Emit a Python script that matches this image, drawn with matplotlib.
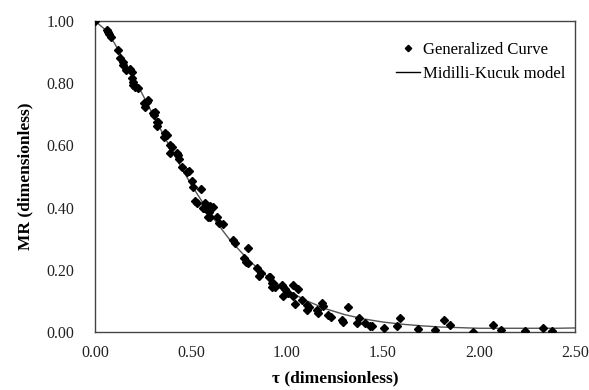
import matplotlib
matplotlib.use("Agg")
import matplotlib.pyplot as plt
import numpy as np

plt.rcParams['font.family'] = ['Liberation Serif', 'DejaVu Serif']

# experimental points (generalized drying curve)
tau_pts = [0.0, 0.064, 0.07, 0.075, 0.082, 0.121, 0.130, 0.144, 0.147, 0.161, 0.182, 0.191,
           0.191, 0.196, 0.20, 0.208, 0.226, 0.255, 0.26, 0.269, 0.278, 0.30, 0.3125, 0.307,
           0.326, 0.321, 0.324, 0.365, 0.373, 0.361, 0.391, 0.399, 0.391, 0.425, 0.434, 0.439,
           0.451, 0.477, 0.491, 0.503, 0.512, 0.55, 0.521, 0.53, 0.573, 0.582, 0.599, 0.613,
           0.56, 0.59, 0.637, 0.568, 0.594, 0.599, 0.648, 0.668, 0.717, 0.729, 0.799, 0.778,
           0.786, 0.795, 0.845, 0.856, 0.865, 0.908, 0.92, 0.9375, 0.972, 0.911, 0.929, 0.92,
           0.981, 0.99, 0.978, 1.033, 1.059, 1.007, 1.033, 1.042, 1.076, 1.102, 1.116, 1.102,
           1.154, 1.163, 1.181, 1.186, 1.215, 1.227, 1.285, 1.293, 1.32, 1.363, 1.377, 1.406,
           1.432, 1.441, 1.505, 1.571, 1.589, 1.684, 1.771, 1.818, 1.849, 1.967, 2.075, 2.113,
           2.24, 2.331, 2.378]
mr_pts = [1.0, 0.971, 0.966, 0.957, 0.95, 0.907, 0.882, 0.869, 0.859, 0.842, 0.846, 0.837,
          0.816, 0.805, 0.794, 0.789, 0.784, 0.735, 0.724, 0.741, 0.746, 0.703, 0.708, 0.698,
          0.676, 0.676, 0.662, 0.639, 0.633, 0.628, 0.601, 0.594, 0.577, 0.577, 0.569, 0.555,
          0.532, 0.516, 0.518, 0.487, 0.467, 0.459, 0.422, 0.416, 0.414, 0.403, 0.405, 0.403,
          0.398, 0.371, 0.369, 0.398, 0.387, 0.371, 0.350, 0.347, 0.296, 0.287, 0.269, 0.237,
          0.226, 0.221, 0.205, 0.18, 0.189, 0.176, 0.159, 0.146, 0.151, 0.178, 0.157, 0.144,
          0.146, 0.137, 0.116, 0.151, 0.137, 0.126, 0.116, 0.09, 0.103, 0.087, 0.081, 0.071,
          0.071, 0.062, 0.092, 0.084, 0.055, 0.049, 0.039, 0.033, 0.081, 0.028, 0.044, 0.028,
          0.019, 0.019, 0.012, 0.019, 0.044, 0.009, 0.0064, 0.039, 0.023, 0.001, 0.023, 0.0064,
          0.004, 0.012, 0.004]

# Midilli-Kucuk model curve
tau_model = [0.0, 0.05, 0.1, 0.2, 0.3, 0.4, 0.5, 0.6, 0.7, 0.8, 0.9, 1.0, 1.1, 1.2, 1.3,
             1.4, 1.5, 1.6, 1.7, 1.8, 2.0, 2.2, 2.4, 2.5]
mr_model = [1.0, 0.974, 0.930, 0.821, 0.701, 0.583, 0.475, 0.379, 0.298, 0.231, 0.177,
            0.134, 0.101, 0.075, 0.056, 0.042, 0.032, 0.025, 0.020, 0.016, 0.012, 0.012,
            0.012, 0.013]

x_ticks = [0.0, 0.5, 1.0, 1.5, 2.0, 2.5]
y_ticks = [0.0, 0.2, 0.4, 0.6, 0.8, 1.0]

fig = plt.figure(figsize=(5.89, 3.90), dpi=100)
ax = fig.add_axes([0.1613, 0.1487, 0.8149, 0.7974])

ax.plot(tau_pts, mr_pts, linestyle='none', marker='D', markersize=3.6,
        color='black', label='Generalized Curve', zorder=3)
ax.plot(tau_model, mr_model, color='#555555', linewidth=1.0,
        label='Midilli-Kucuk model', zorder=2)

ax.set_xlim(0, 2.5)
ax.set_ylim(0, 1.0)
ax.set_xticks(x_ticks)
ax.set_yticks(y_ticks)
ax.set_xticklabels(['%.2f' % v for v in x_ticks])
ax.set_yticklabels(['%.2f' % v for v in y_ticks])
ax.tick_params(length=0, labelsize=11.5, colors='#222222')
ax.tick_params(axis='x', pad=9)
ax.tick_params(axis='y', pad=15)
for s in ax.spines.values():
    s.set_color('#444444')
    s.set_linewidth(1.0)

ax.set_xlabel('τ (dimensionless)', fontsize=12.5, fontweight='bold', labelpad=7)
ax.set_ylabel('MR (dimensionless)', fontsize=12.5, fontweight='bold', labelpad=9)

leg = ax.legend(loc='upper right', bbox_to_anchor=(1.0, 0.966), frameon=False,
                fontsize=12, handlelength=1.45, handletextpad=0.16,
                labelspacing=0.48, borderaxespad=0.2, markerscale=0.9)
for h in leg.get_lines():
    h.set_color('black')

fig.savefig('out.png', dpi=100)
